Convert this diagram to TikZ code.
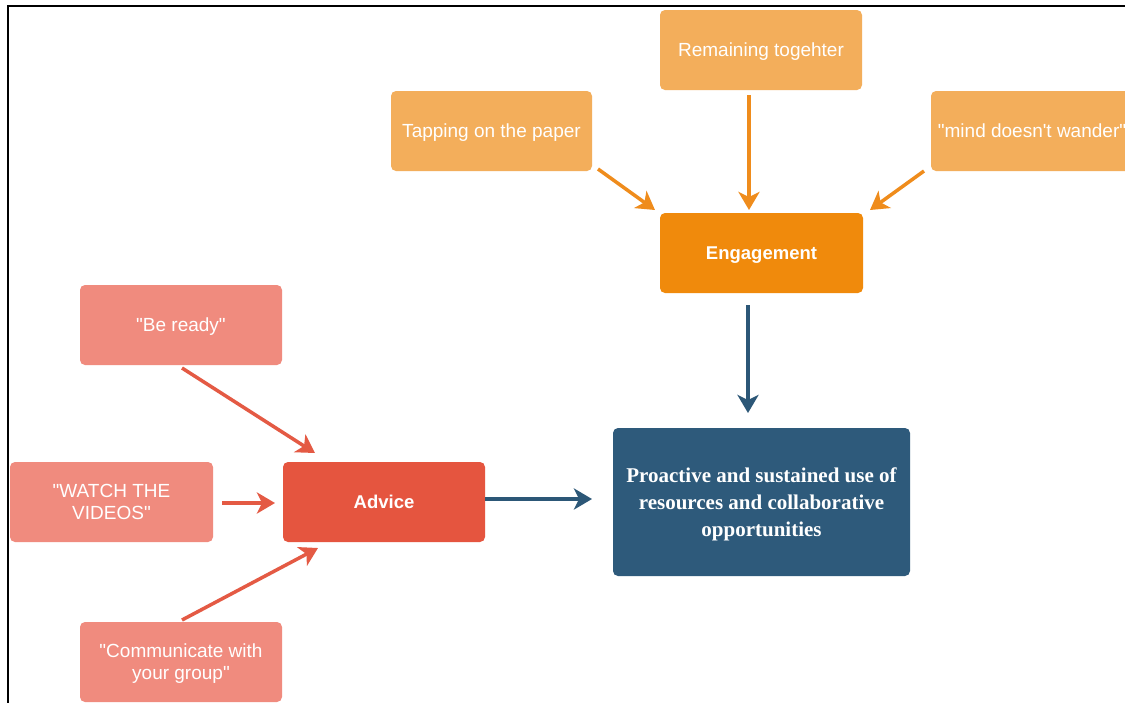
\documentclass[tikz,border=0pt]{standalone}
\usepackage{fontspec}
\setmainfont{Liberation Sans}[Ligatures=TeXOff]
\newfontfamily\serifbold{Liberation Serif}
\usetikzlibrary{arrows.meta}
\definecolor{lorange}{HTML}{F3AE5B}
\definecolor{dorange}{HTML}{F08A0C}
\definecolor{aorange}{HTML}{EF8C1C}
\definecolor{lred}{HTML}{F08B7E}
\definecolor{dred}{HTML}{E5553F}
\definecolor{ared}{HTML}{E45A44}
\definecolor{dblue}{HTML}{2E5A7B}
\definecolor{ablue}{HTML}{2C5777}
\tikzset{
  box/.style={rounded corners=5pt, inner sep=0pt, outer sep=0pt,
    minimum width=202pt, minimum height=80pt, text=white, align=center,
    text depth=0pt, font=\fontsize{19}{22}\selectfont},
  boldbox/.style={box, font=\fontsize{18.5}{22}\selectfont\bfseries},
  conn/.style={line width=3.5pt, -{Stealth[length=18pt,width=21pt,inset=5pt]}},
}
\begin{document}
\begin{tikzpicture}[x=1pt,y=-1pt]
\useasboundingbox (0,0) rectangle (1125,702);
\clip (0,0) rectangle (1125,702);
\fill[white] (0,0) rectangle (1125,702);
\draw[line width=2pt, black] (8,710) -- (8,6) -- (1130,6);

\node[box, fill=lorange] (rem) at (761,50) {Remaining togehter};
\node[box, fill=lorange, minimum width=201pt] (tap) at (491.5,131) {Tapping on the paper};
\node[box, fill=lorange] (mind) at (1032,131) {"mind doesn't wander"};
\node[boldbox, fill=dorange, minimum width=203pt] (eng) at (761.5,253) {Engagement};
\node[box, fill=dblue, minimum width=297pt, minimum height=148pt,
  font=\fontsize{21}{27}\selectfont\serifbold\bfseries] (fin) at (761.5,502)
  {Proactive and sustained use of\\resources and collaborative\\opportunities};
\node[box, fill=lred] (ready) at (181,325) {"Be ready"};
\node[box, fill=lred, minimum width=203pt] (watch) at (111.5,502) {"WATCH THE\\VIDEOS"};
\node[boldbox, fill=dred] (adv) at (384,502) {Advice};
\node[box, fill=lred] (comm) at (181,662) {"Communicate with\\your group"};

\draw[conn, aorange] ([shift={(6,-2)}]tap.south east) -- ([shift={(-5,-3)}]eng.north west);
\draw[conn, aorange] ([shift={(-12,5)}]rem.south) -- ([shift={(-12.5,-3)}]eng.north);
\draw[conn, aorange] ([shift={(-7,0)}]mind.south west) -- ([shift={(7,-3)}]eng.north east);
\draw[conn, ablue] ([shift={(-13.5,12)}]eng.south) -- ([shift={(-13.5,-15)}]fin.north);
\draw[conn, ared] ([shift={(1,3)}]ready.south) -- ([shift={(32,-9)}]adv.north west);
\draw[conn, ared] ([shift={(9,1)}]watch.east) -- ([shift={(-8,1)}]adv.west);
\draw[conn, ared] ([shift={(1,-2)}]comm.north) -- ([shift={(35,6)}]adv.south west);
\draw[conn, ablue] ([shift={(0,-3)}]adv.east) -- ([shift={(-21,-3)}]fin.west);
\end{tikzpicture}
\end{document}
